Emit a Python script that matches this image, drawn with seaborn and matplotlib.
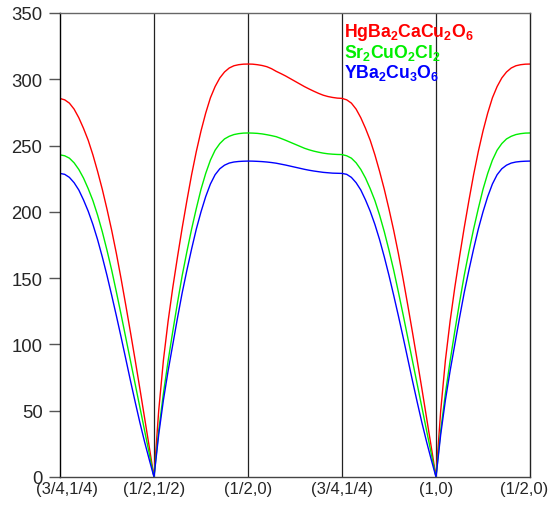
import numpy as np
import pandas as pd
import matplotlib
matplotlib.use("Agg")
import matplotlib.pyplot as plt
import matplotlib.transforms as mtransforms
import seaborn as sns

# ---- data ----
k_labels = ["(3/4,1/4)", "(1/2,1/2)", "(1/2,0)", "(3/4,1/4)", "(1,0)", "(1/2,0)"]
materials = ["HgBa$_2$CaCu$_2$O$_6$", "Sr$_2$CuO$_2$Cl$_2$", "YBa$_2$Cu$_3$O$_6$"]
colors = ["#ff0000", "#00ee00", "#0000ff"]
# fractional position inside each path segment
t_frac = [0.0, 0.05, 0.1, 0.15, 0.2, 0.25, 0.3, 0.35, 0.4, 0.45, 0.5,
          0.55, 0.6, 0.65, 0.7, 0.75, 0.8, 0.85, 0.9, 0.95, 1.0]

# segment (3/4,1/4) -> (1/2,1/2)  (same as (3/4,1/4) -> (1,0))
hg_a = [285.5, 284.5, 282, 277.5, 271, 263, 254, 243, 230.5, 217, 202,
        186, 168.5, 149.5, 129.5, 109, 88, 66.5, 44.5, 22.5, 0]
sr_a = [243, 242.3, 240.5, 237, 232, 225.5, 217.5, 208.5, 197.5, 185, 171,
        156, 139.5, 122.5, 105, 87.5, 70, 52.5, 35, 17.5, 0]
y_a = [229, 228.3, 226, 222, 216.5, 209, 200.5, 190.5, 179, 166, 152,
       137, 121.5, 105.5, 89, 72.5, 56.5, 41, 26.5, 13, 0]
# segment (1/2,1/2) -> (1/2,0)  (same as (1,0) -> (1/2,0))
hg_b = [0, 50, 88, 117.5, 143, 166, 188, 208.5, 228, 245.5, 261,
        274.5, 286, 294.5, 301, 305.5, 308.5, 310.2, 311, 311.4, 311.5]
sr_b = [0, 35, 63, 87.5, 110, 131.5, 152, 170, 187, 202.5, 217,
        229, 239, 246.5, 251.5, 255, 257, 258.3, 259, 259.4, 259.5]
y_b = [0, 32, 58, 80, 100, 120, 139, 156, 172, 187, 200,
       211.5, 221, 228, 232.5, 235.2, 236.8, 237.6, 238, 238.2, 238.3]
# segment (1/2,0) -> (3/4,1/4)
hg_c = [311.5, 311.4, 311, 310.4, 309.5, 308, 306, 304.3, 302.5, 300.5, 298.5,
        296.5, 294.5, 292.7, 291, 289.4, 288, 287, 286.3, 285.8, 285.6]
sr_c = [259.5, 259.4, 259.2, 258.8, 258.2, 257.5, 256.7, 255.4, 254, 252.5, 251,
        249.5, 248, 246.8, 245.8, 245, 244.3, 243.8, 243.5, 243.3, 243.2]
y_c = [238.3, 238.25, 238.1, 237.9, 237.6, 237.2, 236.7, 236, 235.3, 234.5, 233.7,
       232.9, 232.1, 231.4, 230.8, 230.3, 229.8, 229.5, 229.2, 229.1, 229.0]

series = {
    materials[0]: [hg_a, hg_b, hg_c, hg_a, hg_b],
    materials[1]: [sr_a, sr_b, sr_c, sr_a, sr_b],
    materials[2]: [y_a, y_b, y_c, y_a, y_b],
}

rows = []
for name, segs in series.items():
    for i, seg in enumerate(segs):
        for j, (t, v) in enumerate(zip(t_frac, seg)):
            if i > 0 and j == 0:
                continue
            rows.append({"k": i + t, "E": v, "material": name})
df = pd.DataFrame(rows)

# ---- style ----
sns.set_theme(style="white")
plt.rcParams["font.family"] = ["Liberation Sans", "DejaVu Sans"]
plt.rcParams["mathtext.default"] = "regular"

fig = plt.figure(figsize=(5.59, 5.06), dpi=100)
ax = fig.add_axes([60 / 559, 28 / 506, 470 / 559, 464 / 506])

palette = dict(zip(materials, colors))
sns.lineplot(data=df, x="k", y="E", hue="material", palette=palette,
             estimator=None, errorbar=None, linewidth=1.0, legend=False, ax=ax)

for xv in [1, 2, 3, 4]:
    ax.axvline(xv, color="#222222", lw=0.9, zorder=0)

ax.set_xlim(0, 5)
ax.set_ylim(0, 350)
ax.set_yticks(np.arange(0, 351, 50))
ax.set_xticks(range(len(k_labels)))
ax.set_xticklabels(k_labels, fontsize=12)
ax.tick_params(axis="y", labelsize=13.3, length=7.6, width=1, color="#555555",
               pad=5, direction="out", left=True)
ax.tick_params(axis="x", length=0, pad=3)
ax.set_xlabel("")
ax.set_ylabel("")

for side, col in [("left", "#000000"), ("right", "#222222"),
                  ("bottom", "#444444"), ("top", "#666666")]:
    ax.spines[side].set_visible(True)
    ax.spines[side].set_color(col)
    ax.spines[side].set_linewidth(1.0)

xl = ax.get_xticklabels()
xl[0].set_transform(xl[0].get_transform() +
                    mtransforms.ScaledTranslation(7 / 100, 0, fig.dpi_scale_trans))
xl[-1].set_transform(xl[-1].get_transform() +
                     mtransforms.ScaledTranslation(-6 / 100, 0, fig.dpi_scale_trans))

for name, col, yb in zip(materials, colors, [332.7, 316.6, 302.0]):
    ax.text(3.02, yb, name, color=col, fontsize=12.7, fontweight="bold",
            va="baseline", ha="left")

fig.savefig("out.png", dpi=100)
